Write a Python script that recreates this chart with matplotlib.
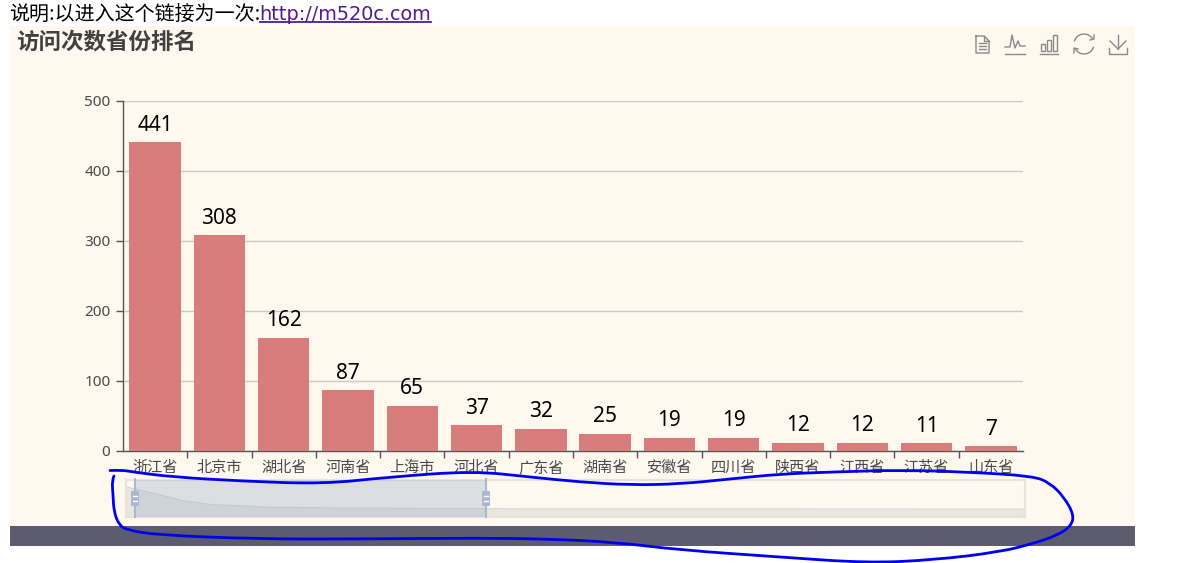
import matplotlib
matplotlib.use("Agg")
import matplotlib.pyplot as plt
from matplotlib.patches import Rectangle, FancyBboxPatch, Arc, PathPatch
from matplotlib.path import Path

W, H = 1184, 563
CJK = ['Noto Sans CJK SC', 'DejaVu Sans']
LATIN = ['Noto Sans', 'DejaVu Sans']
plt.rcParams['font.family'] = CJK

# chart data
provinces = ['浙江省', '北京市', '湖北省', '河南省', '上海市', '河北省', '广东省',
             '湖南省', '安徽省', '四川省', '陕西省', '江西省', '江苏省', '山东省']
visits = [441, 308, 162, 87, 65, 37, 32, 25, 19, 19, 12, 12, 11, 7]
# remaining provinces only show up in the zoom slider shadow
other_visits = [6, 6, 5, 5, 4, 4, 4, 3, 3, 3, 2, 2, 2, 2, 1, 1, 1, 1]
y_ticks = [0, 100, 200, 300, 400, 500]

# hand drawn blue circle around the slider, control points of a smooth curve
loop_x = [110, 122, 133, 173, 240, 323, 390, 473, 530, 580, 630, 680, 730, 780, 833, 900, 967, 1033,
          1050, 1064, 1074, 1071, 1058, 1035, 1000, 933, 867, 780, 680, 613, 547, 480, 357, 257, 157,
          127, 119, 114, 113, 112, 116]
loop_y = [470.5, 470, 472, 477, 481, 484, 477, 471, 477, 482, 485, 484, 479, 474, 472, 470, 472, 476,
          483, 497, 515, 526, 535, 543, 552, 560, 563, 557, 550, 542, 539, 538, 539, 539, 535,
          530, 525, 512, 495, 480, 472]

fig = plt.figure(figsize=(W / 100, H / 100), dpi=100, facecolor='white')

# overlay in pixel coordinates for page furniture
page = fig.add_axes([0, 0, 1, 1], zorder=0)
page.set_xlim(0, W)
page.set_ylim(H, 0)
page.axis('off')
page.add_patch(Rectangle((10, 26), 1125, 500, fc='#FEF8EF', ec='none'))
page.add_patch(Rectangle((10, 526), 1125, 20, fc='#5C5C6E', ec='none'))

page.text(9, 14, '说明:以进入这个链接为一次:', fontsize=14.4, color='black', va='center')
page.text(259, 14, 'http://m520c.com', fontsize=13.9, color='#551A8B', va='center',
          family='DejaVu Sans')
page.plot([260, 431], [22, 22], color='#551A8B', lw=1.3)
page.text(16, 42, '访问次数省份排名', fontsize=16.2, fontweight='bold', color='#404040', va='center')

# toolbox icons
ic = '#8a8a8a'
page.plot([976, 976, 989, 989, 984, 976], [36, 53, 53, 41, 36, 36], color=ic, lw=1)
page.plot([984, 984, 989], [36, 41, 41], color=ic, lw=1)
for yy in [43, 46, 49]:
    page.plot([979, 986], [yy, yy], color=ic, lw=1)
page.plot([1005, 1025], [54, 54], color=ic, lw=1)
page.plot([1005, 1010, 1012, 1015, 1018, 1020, 1025], [47, 47, 35, 48, 41, 46, 46], color=ic, lw=1)
page.plot([1040, 1058], [54, 54], color=ic, lw=1)
for x0, top in [(1041, 44), (1047, 40), (1053, 35)]:
    page.add_patch(Rectangle((x0, top), 4, 51 - top, fc='none', ec=ic, lw=1))
page.add_patch(Arc((1084, 44), 20, 20, theta1=195, theta2=330, ec=ic, lw=1))
page.add_patch(Arc((1084, 44), 20, 20, theta1=15, theta2=150, ec=ic, lw=1))
page.plot([1090, 1094, 1094], [40, 39, 35], color=ic, lw=1)
page.plot([1074, 1074, 1078], [53, 48, 49], color=ic, lw=1)
page.plot([1118, 1118], [35, 49], color=ic, lw=1)
page.plot([1110, 1118, 1126], [41, 49, 41], color=ic, lw=1)
page.plot([1109, 1109, 1127, 1127], [48, 54, 54, 48], color=ic, lw=1)

# main bar chart
ax = fig.add_axes([123 / W, 1 - 451 / H, 900 / W, 350 / H], zorder=1)
ax.patch.set_alpha(0)
x = list(range(len(provinces)))
ax.bar(x, visits, width=0.8, color='#D87C7C', zorder=3)
ax.set_xlim(-0.5, len(provinces) - 0.5)
ax.set_ylim(0, 500)
ax.set_yticks(y_ticks)
ax.set_yticklabels([str(v) for v in y_ticks], fontsize=11, color='#4a4a4a', family=LATIN)
ax.set_xticks(x)
ax.set_xticklabels(provinces, fontsize=10.9, color='#4a4a4a')
ax.set_xticks([i - 0.5 for i in range(1, len(provinces))], minor=True)
ax.tick_params(axis='x', which='major', length=0, pad=6)
ax.tick_params(axis='x', which='minor', length=5, width=1, color='#555555', direction='out')
ax.tick_params(axis='y', length=5, width=1, color='#555555', pad=4)
ax.grid(axis='y', color='#C9C9C6', lw=1, zorder=1)
for s in ['top', 'right']:
    ax.spines[s].set_visible(False)
for s in ['left', 'bottom']:
    ax.spines[s].set_color('#555555')
    ax.spines[s].set_linewidth(1)
for i, v in enumerate(visits):
    ax.annotate(str(v), (i, v), xytext=(0, 4.5), textcoords='offset points', ha='center', va='bottom',
                fontsize=15, color='black', family=LATIN, zorder=5)

# zoom slider
slider = fig.add_axes([126 / W, 1 - 517 / H, 899 / W, 37 / H], zorder=2)
slider.patch.set_alpha(0)
shadow = visits + other_visits
sx = list(range(len(shadow)))
slider.set_xlim(0, len(shadow) - 1)
slider.set_ylim(-146, 588)  # 441 at y=487, 0 at y=510
slider.set_xticks([])
slider.set_yticks([])
for s in slider.spines.values():
    s.set_color('#E6E4DE')
    s.set_linewidth(1.5)
slider.fill_between(sx, -146, [v + 10 for v in shadow], color='#E8E6DF', lw=0, zorder=1)
slider.plot(sx, [v + 10 for v in shadow], color='#D5D4CF', lw=0.8, zorder=2)

top = fig.add_axes([0, 0, 1, 1], zorder=3)
top.set_xlim(0, W)
top.set_ylim(H, 0)
top.axis('off')
top.add_patch(Rectangle((135, 480), 351, 37, fc='#A9B7CC', ec='none', alpha=0.4))
for hx in [135, 486]:
    top.plot([hx, hx], [479, 517], color='#A9B8D0', lw=1.5)
    top.add_patch(FancyBboxPatch((hx - 4, 491), 8, 15, boxstyle='round,pad=0,rounding_size=1',
                                 fc='#A9B8D0', ec='none'))
    top.plot([hx - 2, hx + 2], [496, 496], color='white', lw=1)
    top.plot([hx - 2, hx + 2], [501, 501], color='white', lw=1)

# quadratic curves through the midpoints so the pen stroke has no corners
verts = [(loop_x[0], loop_y[0])]
codes = [Path.MOVETO]
for i in range(1, len(loop_x) - 1):
    mid = ((loop_x[i] + loop_x[i + 1]) / 2, (loop_y[i] + loop_y[i + 1]) / 2)
    verts += [(loop_x[i], loop_y[i]), mid]
    codes += [Path.CURVE3, Path.CURVE3]
top.add_patch(PathPatch(Path(verts, codes), fc='none', ec='#0000F0', lw=2, capstyle='round'))

fig.savefig('out.png', dpi=100, facecolor='white')
